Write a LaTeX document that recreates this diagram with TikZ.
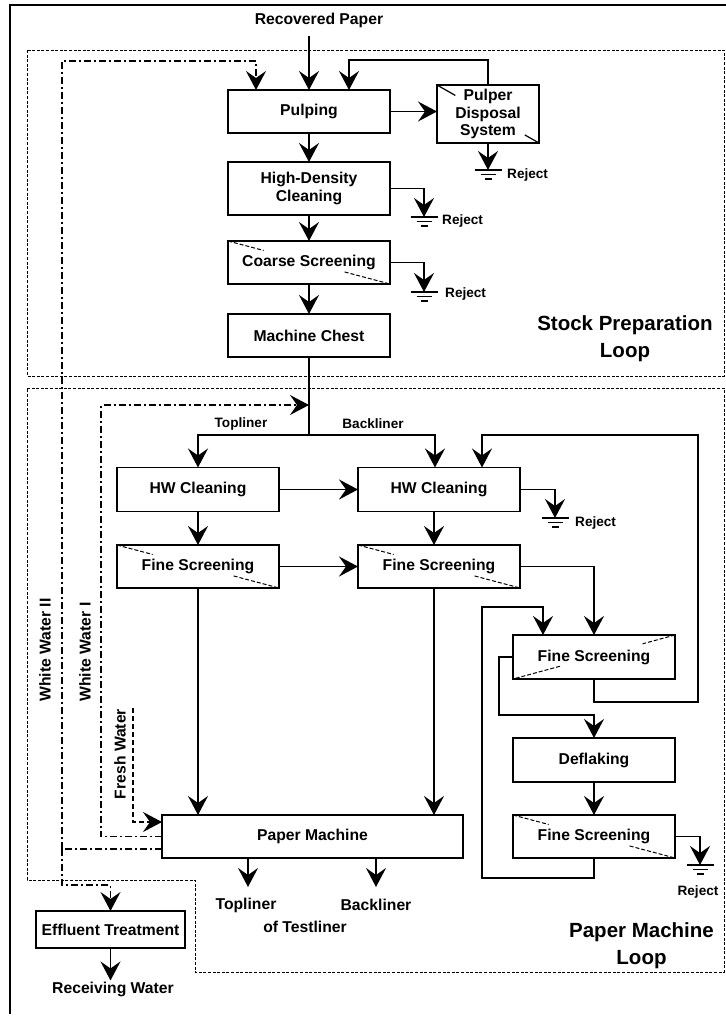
\documentclass[tikz,border=0pt]{standalone}
\usepackage{fontspec}
\setmainfont{Liberation Sans}
\usetikzlibrary{arrows.meta,calc}
\newcommand{\myground}[1]{\draw[line width=1.2pt] ($(#1)+(-13.5,0)$) -- ($(#1)+(13.5,0)$) ($(#1)+(-7.5,4.5)$) -- ($(#1)+(7.5,4.5)$) ($(#1)+(-3.5,9)$) -- ($(#1)+(3.5,9)$);}
\begin{document}
\begin{tikzpicture}[x=1pt,y=-1pt,
  every node/.style={font=\bfseries\fontsize{15.7}{17.5}\selectfont},
  proc/.style={draw,line width=1.7pt,minimum width=162pt,minimum height=43pt,inner sep=0pt,outer sep=0pt,align=center},
  flowarr/.style={line width=1.7pt,-{Stealth[length=19pt,width=20pt,inset=7pt]}},
  tiparr/.style={-{Stealth[length=19pt,width=20pt,inset=7pt]}},
  plainline/.style={line width=1.7pt},
  ddline/.style={line width=1.4pt,dash pattern=on 7pt off 3pt on 2pt off 3pt},
  fwline/.style={line width=1.4pt,dash pattern=on 5pt off 3pt},
  loopb/.style={line width=0.9pt,dash pattern=on 3pt off 1.6pt},
  smk/.style={line width=1pt,dash pattern=on 4pt off 2pt},
  lbl/.style={inner sep=1pt},
  smalltxt/.style={font=\bfseries\fontsize{13.6}{15}\selectfont},
  headtxt/.style={font=\bfseries\fontsize{20.5}{27}\selectfont,align=center},
]
\useasboundingbox (0,0) rectangle (726,1021);
% frame and loops
\draw[line width=1.8pt] (10,1014) -- (10,5) -- (728,5);
\draw[loopb] (27,50) rectangle (724,376);
\draw[loopb] (27,388) -- (724,388) -- (724,972) -- (195,972) -- (195,880) -- (27,880) -- cycle;

% nodes
\node[lbl] (rp) at (319,20) {Recovered Paper};
\node[proc] (pulp) at (309,111.5) {Pulping};
\node[proc,minimum width=102pt,minimum height=58pt] (pds) at (488,114) {Pulper\\Disposal\\System};
\node[proc,minimum height=53pt] (hdc) at (309,188.5) {High-Density\\Cleaning};
\node[proc] (cs) at (309,262.5) {Coarse Screening};
\node[proc] (mc) at (309,335.5) {Machine Chest};
\node[proc,minimum height=44pt] (hw1) at (198,489.5) {HW Cleaning};
\node[proc,minimum height=44pt] (hw2) at (439,489.5) {HW Cleaning};
\node[proc] (fs1) at (198,566.5) {Fine Screening};
\node[proc] (fs2) at (439,566.5) {Fine Screening};
\node[proc,minimum height=44pt] (fs3) at (594,657) {Fine Screening};
\node[proc,minimum height=44pt] (defl) at (594,760) {Deflaking};
\node[proc] (fs4) at (594,836.5) {Fine Screening};
\node[proc,minimum width=301pt] (pm) at (312.5,836.5) {Paper Machine};
\node[proc,minimum width=149pt,minimum height=37pt] (eff) at (110.5,929.5) {Effluent Treatment};
\node[lbl] (rw) at (113,989) {Receiving Water};

% diagonal marks
\foreach \b in {cs,fs1,fs2,fs4} {
  \draw[smk] (\b.north west) -- ($(\b.north west)!0.22!(\b.south east)$);
  \draw[smk] ($(\b.north west)!0.72!(\b.south east)$) -- (\b.south east);
}
\draw[smk] (fs3.north east) -- ($(fs3.north east)!0.2!(fs3.south west)$);
\draw[smk] ($(fs3.north east)!0.71!(fs3.south west)$) -- (fs3.south west);
\draw[line width=1.2pt] (pds.north west) -- ($(pds.north west)!0.18!(pds.south east)$);
\draw[line width=1.2pt] ($(pds.north west)!0.86!(pds.south east)$) -- (pds.south east);

% grounds
\coordinate (g1) at (488,170);
\coordinate (g2) at (424,217);
\coordinate (g3) at (424,292);
\coordinate (g4) at (555,518);
\coordinate (g5) at (700,865);
\myground{g1}\myground{g2}\myground{g3}\myground{g4}\myground{g5}
\node[smalltxt,lbl,anchor=west] (r1) at (506,175) {Reject};
\node[smalltxt,lbl,anchor=west] (r2) at (441,221) {Reject};
\node[smalltxt,lbl,anchor=west] (r3) at (444,294) {Reject};
\node[smalltxt,lbl,anchor=west] (r4) at (574,523) {Reject};
\node[smalltxt,lbl] (r5) at (698,892) {Reject};

% labels
\node[smalltxt,lbl] (tl1) at (241,424) {Topliner};
\node[smalltxt,lbl] (bl1) at (373,424) {Backliner};
\node[lbl] (tl2) at (246,905) {Topliner};
\node[lbl] (ot) at (305,927) {of Testliner};
\node[lbl] (bl2) at (376,905) {Backliner};
\node[lbl,rotate=90] (ww2l) at (45,650) {White Water II};
\node[lbl,rotate=90] (ww1l) at (85,652) {White Water I};
\node[lbl,rotate=90] (fwl) at (120,754) {Fresh Water};
\node[headtxt] (spl) at (625,338.5) {Stock Preparation\\Loop};
\node[headtxt] (pml) at (641.5,946) {Paper Machine\\Loop};

% main flow
\draw[flowarr] ($(rp.south -| pulp.north)+(0,7)$) -- (pulp.north);
\draw[flowarr] (pulp.south) -- (hdc.north);
\draw[flowarr] (hdc.south) -- (cs.north);
\draw[flowarr] (cs.south) -- (mc.north);
\draw[flowarr] (pulp.east) -- (pulp.east -| pds.west);
\draw[flowarr] (pds.north) -- (pds.north |- 0,60) -| ($(pulp.north)+(40,0)$);
\draw[flowarr] (pds.south) -- (g1);
\draw[flowarr] (hdc.east) -| (g2);
\draw[flowarr] (cs.east) -| (g3);
\coordinate (sp) at (309,435);
\draw[plainline] (mc.south) -- (sp);
\draw[flowarr] (sp) -| (hw1.north);
\draw[flowarr] (sp) -| ($(hw2.north)+(-4,0)$);
\draw[flowarr] (hw1.east) -- (hw2.west);
\draw[flowarr] (hw1.south) -- (fs1.north);
\draw[flowarr] ($(hw2.south)+(-5,0)$) -- ($(fs2.north)+(-5,0)$);
\draw[flowarr] (hw2.east) -| (g4);
\draw[flowarr] (fs1.east) -- (fs2.west);
\draw[flowarr] (fs1.south) -- (fs1.south |- pm.north);
\draw[flowarr] ($(fs2.south)+(-5,0)$) -- ($(fs2.south |- pm.north)+(-5,0)$);
\draw[flowarr] (fs2.east) -| (fs3.north);
\draw[flowarr] (fs3.south) -- (594,702) -- (698,702) -- (698,435) -| ($(hw2.north)+(43,0)$);
\draw[flowarr] (fs3.west) -- (499,657) -- (499,715) -| (defl.north);
\draw[flowarr] (defl.south) -- (fs4.north);
\draw[flowarr] (fs4.south) -- (594,878) -- (482,878) -- (482,607) -| ($(fs3.north)+(-51,0)$);
\draw[flowarr] (fs4.east) -| (g5);
\coordinate (tlp) at (248,887);
\coordinate (blp) at (376,887);
\draw[flowarr] (pm.south -| tlp) -- (tlp);
\draw[flowarr] (pm.south -| blp) -- (blp);
\draw[flowarr] (eff.south) -- (eff.south |- rw.north);

% water lines
\coordinate (ww) at (62,849);
\draw[ddline] ($(pm.west)+(0,12.5)$) -- (ww);
\draw[ddline,tiparr] (ww) -- (62,61) -- (256,61) -- ($(pulp.north)+(-53,0)$);
\draw[ddline,tiparr] (ww) -- (62,885) -| (eff.north);
\draw[ddline,tiparr] (pm.west) -- (101,836.5) -- (101,405) -- (mc.south |- 0,405);
\draw[fwline,tiparr] (133,708) |- ($(pm.west)+(0,-14.5)$);
\end{tikzpicture}
\end{document}
